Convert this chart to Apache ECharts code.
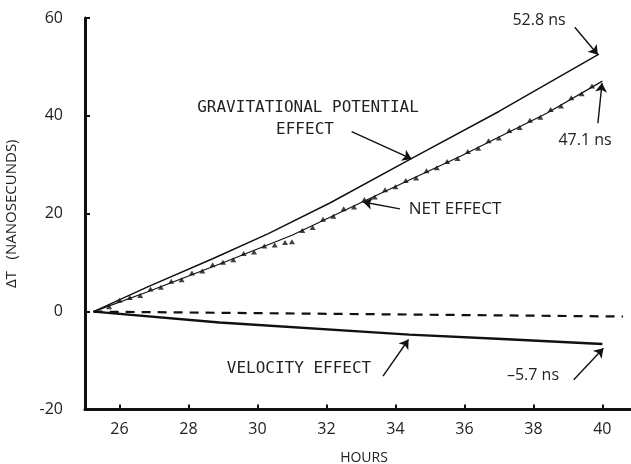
<!DOCTYPE html>
<html>
<head>
<meta charset="utf-8">
<script src="https://cdn.jsdelivr.net/npm/echarts@6/dist/echarts.min.js"></script>
<style>
  html, body { margin: 0; padding: 0; background: #fff; }
  #chart { width: 631px; height: 464px; }
</style>
</head>
<body>
<div id="chart"></div>
<script>
// x axis ticks (hours)
var xTicks = [26, 28, 30, 32, 34, 36, 38, 40];

// gravitational potential effect
var gravHours = [25.25, 26.8, 28.7, 30.3, 32.1, 34.5, 37.0, 39.9];
var gravNs = [0, 5.0, 10.8, 15.9, 22.2, 31.4, 40.9, 52.6];

// net effect (fitted line)
var netHours = [25.25, 26.8, 29.0, 31.0, 33.1, 35.9, 38.4, 40.0];
var netNs = [0, 4.0, 10.0, 15.6, 22.6, 31.8, 40.6, 47.1];

// net effect measured points
var ptHours = [25.7, 26.0, 26.3, 26.6, 26.9, 27.2, 27.5, 27.8, 28.1, 28.4, 28.7, 29.0, 29.3, 29.6,
  29.9, 30.2, 30.5, 30.8, 31.0, 31.3, 31.6, 31.9, 32.2, 32.5, 32.8, 33.1, 33.4, 33.7, 34.0,
  34.3, 34.6, 34.9, 35.2, 35.5, 35.8, 36.1, 36.4, 36.7, 37.0, 37.3, 37.6, 37.9, 38.2, 38.5,
  38.8, 39.1, 39.4, 39.7];
var ptNs = [1.0, 2.3, 2.9, 3.3, 4.6, 5.0, 6.2, 6.5, 7.9, 8.3, 9.6, 10.1, 10.6, 11.9,
  12.2, 13.4, 13.6, 14.1, 14.3, 16.6, 17.2, 18.9, 19.5, 21.0, 21.4, 22.9, 23.4, 24.9, 25.5,
  26.8, 27.3, 28.8, 29.4, 30.7, 31.3, 32.7, 33.4, 34.9, 35.5, 37.0, 37.6, 39.1, 39.7, 41.3,
  42.0, 43.7, 44.5, 46.1];

// velocity effect
var velHours = [25.25, 28.9, 34.4, 37.1, 40.0];
var velNs = [0, -2.2, -4.7, -5.6, -6.6];

// dashed line
var dashHours = [25.25, 40.6];
var dashNs = [0, -1.0];

// annotation arrows [fromHour, fromNs, toHour, toNs]
var arrows = [
  [39.20, 58.1, 39.87, 52.5],
  [39.87, 38.5, 39.99, 46.7],
  [32.73, 36.8, 34.47, 31.2],
  [34.13, 21.0, 33.06, 22.4],
  [33.64, -13.2, 34.38, -5.7],
  [39.17, -13.9, 40.03, -7.5]
];

function zip(a, b) {
  var out = [];
  for (var i = 0; i < a.length; i++) out.push([a[i], b[i]]);
  return out;
}

var sans = "'Open Sans', 'DejaVu Sans', sans-serif";
var mono = "'DejaVu Sans Mono', monospace";
var ink = '#111';

var chart = echarts.init(document.getElementById('chart'));

var option = {
  animation: false,
  backgroundColor: '#fff',
  grid: { left: 85, right: 0, top: 18, bottom: 54.5, outerBoundsMode: 'none', containLabel: false },
  xAxis: {
    type: 'value',
    min: 25,
    max: 40.83,
    name: 'HOURS',
    nameLocation: 'middle',
    nameGap: 42,
    nameTextStyle: { fontFamily: sans, fontSize: 14, color: '#222', padding: [0, 0, 0, 12] },
    axisLine: { onZero: false, lineStyle: { color: ink, width: 3 } },
    axisTick: { inside: true, length: 5, lineStyle: { color: ink, width: 2 }, customValues: xTicks },
    axisLabel: { customValues: xTicks, fontFamily: sans, fontSize: 16, color: '#222', margin: 12 },
    splitLine: { show: false }
  },
  yAxis: {
    type: 'value',
    min: -20,
    max: 60,
    interval: 20,
    name: 'ΔT   (NANOSECUNDS)',
    nameLocation: 'middle',
    nameGap: 66,
    nameTextStyle: { fontFamily: sans, fontSize: 15, color: '#222' },
    axisLine: { onZero: false, lineStyle: { color: ink, width: 3 } },
    axisTick: { inside: true, length: 5, lineStyle: { color: ink, width: 2 } },
    axisLabel: { fontFamily: sans, fontSize: 16, color: '#222', margin: 22 },
    splitLine: { show: false }
  },
  series: [
    {
      type: 'line', data: zip(gravHours, gravNs), showSymbol: false, silent: true,
      lineStyle: { color: ink, width: 1.5 }
    },
    {
      type: 'line', data: zip(netHours, netNs), showSymbol: false, silent: true,
      lineStyle: { color: ink, width: 1.2 }
    },
    {
      type: 'scatter', data: zip(ptHours, ptNs), symbol: 'triangle', symbolSize: [6, 5],
      itemStyle: { color: ink }, silent: true
    },
    {
      type: 'line', data: zip(velHours, velNs), showSymbol: false, silent: true,
      lineStyle: { color: ink, width: 2.5 }
    },
    {
      type: 'line', data: zip(dashHours, dashNs), showSymbol: false, silent: true,
      lineStyle: { color: ink, width: 2.2, type: [9, 7] },
      markLine: {
        silent: true,
        symbol: ['none', 'arrow'],
        symbolSize: 9,
        label: { show: false },
        lineStyle: { color: ink, width: 1.4, type: 'solid' },
        data: arrows.map(function (a) {
          return [{ coord: [a[0], a[1]] }, { coord: [a[2], a[3]] }];
        })
      }
    }
  ],
  graphic: [
    { type: 'text', x: 539, y: 20, style: { text: '52.8 ns', font: '16px ' + sans, fill: '#222', align: 'center', verticalAlign: 'middle' } },
    { type: 'text', x: 585, y: 140, style: { text: '47.1 ns', font: '16px ' + sans, fill: '#222', align: 'center', verticalAlign: 'middle' } },
    { type: 'text', x: 308, y: 108, style: { text: 'GRAVITATIONAL POTENTIAL', font: '16px ' + mono, fill: '#222', align: 'center', verticalAlign: 'middle' } },
    { type: 'text', x: 305, y: 130, style: { text: 'EFFECT', font: '16px ' + mono, fill: '#222', align: 'center', verticalAlign: 'middle' } },
    { type: 'text', x: 455, y: 209, style: { text: 'NET EFFECT', font: '17px ' + sans, fill: '#222', align: 'center', verticalAlign: 'middle' } },
    { type: 'text', x: 299, y: 369, style: { text: 'VELOCITY EFFECT', font: '16px ' + mono, fill: '#222', align: 'center', verticalAlign: 'middle' } },
    { type: 'text', x: 533, y: 375, style: { text: '–5.7 ns', font: '16px ' + sans, fill: '#222', align: 'center', verticalAlign: 'middle' } }
  ]
};

chart.setOption(option);
</script>
</body>
</html>
